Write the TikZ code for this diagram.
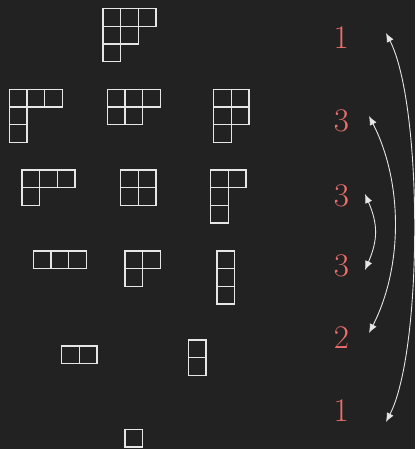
\documentclass[tikz,border=0pt]{standalone}
\usetikzlibrary{arrows.meta}
\definecolor{bg}{HTML}{222222}
\definecolor{cellline}{HTML}{E6E6E6}
\definecolor{numred}{HTML}{EE6E6E}
\newcommand{\ycell}{17.67}
\newcommand{\youngd}[3]{%
  \foreach \rowlen [count=\ri] in {#3} {%
    \foreach \ci in {1,...,\rowlen} {%
      \draw[cellbox] ({#1+(\ci-1)*\ycell},{#2+(\ri-1)*\ycell}) rectangle ++(\ycell,\ycell);
    }%
  }%
}
\tikzset{
  cellbox/.style={draw=cellline, line width=1.1pt},
  countlbl/.style={text=numred, font=\fontsize{33}{34}\selectfont, inner sep=0pt, anchor=center},
  pairarrow/.style={draw=cellline, line width=0.9pt, {Latex[length=9pt,width=7.5pt]}-{Latex[length=9pt,width=7.5pt]}}
}
\begin{document}
\begin{tikzpicture}[x=1pt,y=-1pt]
\fill[bg] (0,0) rectangle (415,449);
\useasboundingbox (0,0) rectangle (415,449);
% row 1
\youngd{103}{8.7}{3,2,1}
% row 2
\youngd{9.3}{89.3}{3,1,1}
\youngd{107.3}{89.3}{3,2}
\youngd{213.7}{89.3}{2,2,1}
% row 3
\youngd{22}{170}{3,1}
\youngd{120.7}{170}{2,2}
\youngd{210.7}{170}{2,1,1}
% row 4
\youngd{33.3}{251}{3}
\youngd{125}{251}{2,1}
\youngd{217}{251}{1,1,1}
% row 5
\youngd{61.7}{346}{2}
\youngd{188.3}{340}{1,1}
% row 6
\youngd{125}{429.3}{1}
% counts
\node[countlbl] (n1) at (341.3,38) {1};
\node[countlbl] (n2) at (341.5,121) {3};
\node[countlbl] (n3) at (341.5,196) {3};
\node[countlbl] (n4) at (341.5,266) {3};
\node[countlbl] (n5) at (341.5,337.5) {2};
\node[countlbl] (n6) at (341.3,411) {1};
% arrow ends
\coordinate (a1) at (386,33);
\coordinate (b1) at (386,422);
\coordinate (a2) at (369,116);
\coordinate (b2) at (369,333);
\coordinate (a3) at (365,194);
\coordinate (b3) at (365,270);
\draw[pairarrow] (a1) .. controls (423,105) and (423,350) .. (b1);
\draw[pairarrow] (a2) .. controls (403,182) and (403,267) .. (b2);
\draw[pairarrow] (a3) .. controls (378,224) and (378,240) .. (b3);
\end{tikzpicture}
\end{document}
